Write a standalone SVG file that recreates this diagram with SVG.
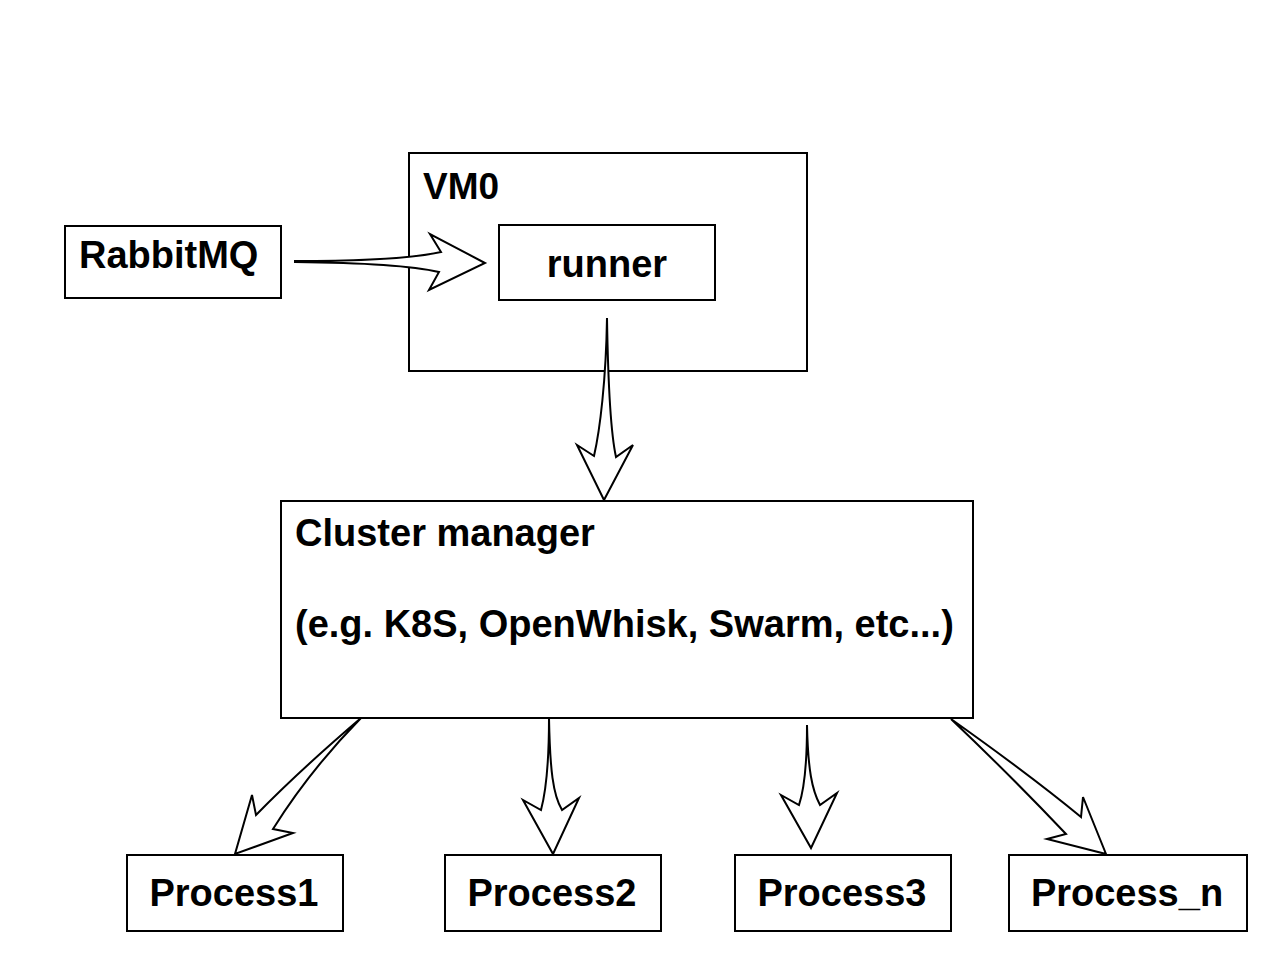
<svg xmlns="http://www.w3.org/2000/svg" width="1280" height="960" viewBox="0 0 1280 960">
<style>
.box{fill:#fff;stroke:#000;stroke-width:2}
.lbl{font-family:"Liberation Sans",Arial,Helvetica,sans-serif;font-weight:bold;font-size:38px;fill:#000}
.arr{fill:#fff;stroke:#000;stroke-width:2;stroke-linejoin:miter}
</style>
<rect width="1280" height="960" fill="#fff"/>
<g id="vm0">
<rect class="box" x="409" y="153" width="398" height="218"/>
<text class="lbl" x="423" y="199" style="font-size:37px">VM0</text>
</g>
<g id="rabbitmq">
<rect class="box" x="65" y="226" width="216" height="72"/>
<text class="lbl" x="79" y="268">RabbitMQ</text>
</g>
<g id="runner">
<rect class="box" x="499" y="225" width="216" height="75"/>
<text class="lbl" x="607" y="277" text-anchor="middle">runner</text>
</g>
<g id="cluster">
<rect class="box" x="281" y="501" width="692" height="217"/>
<text class="lbl" x="295" y="546">Cluster manager</text>
<text class="lbl" x="295" y="637">(e.g. K8S, OpenWhisk, Swarm, etc...)</text>
</g>
<g id="process1">
<rect class="box" x="127" y="855" width="216" height="76"/>
<text class="lbl" x="234" y="906" text-anchor="middle">Process1</text>
</g>
<g id="process2">
<rect class="box" x="445" y="855" width="216" height="76"/>
<text class="lbl" x="552" y="906" text-anchor="middle">Process2</text>
</g>
<g id="process3">
<rect class="box" x="735" y="855" width="216" height="76"/>
<text class="lbl" x="842" y="906" text-anchor="middle">Process3</text>
</g>
<g id="process_n">
<rect class="box" x="1009" y="855" width="238" height="76"/>
<text class="lbl" x="1127" y="906" text-anchor="middle">Process_n</text>
</g>
<g id="connectors">
<path class="arr" d="M295,261 Q400,261 441,252 L430,234 L485,263 L429,290 L439,272 Q400,263 295,262 Z"/>
<path class="arr" d="M607,318 C606,380 600,430 594,456 L577,445 L604,500 L633,445 L616,457 C610,430 608,380 607,318 Z"/>
<path class="arr" d="M361,718 Q300,770 256,815 L252,795 L235,854 L293,833 L273,829 Q310,770 361,718 Z"/>
<path class="arr" d="M549,718 C549,770 545,795 541,810 L523,800 L553,854 L579,798 L562,810 C553,795 550,770 549,718 Z"/>
<path class="arr" d="M807,725 C807,770 804,790 799,805 L781,795 L811,848 L837,793 L820,805 C812,790 808,770 807,725 Z"/>
<path class="arr" d="M951,719 Q1030,775 1081,817 L1083,797 L1106,854 L1047,839 L1066,834 Q1010,775 951,719 Z"/>
</g>
</svg>
